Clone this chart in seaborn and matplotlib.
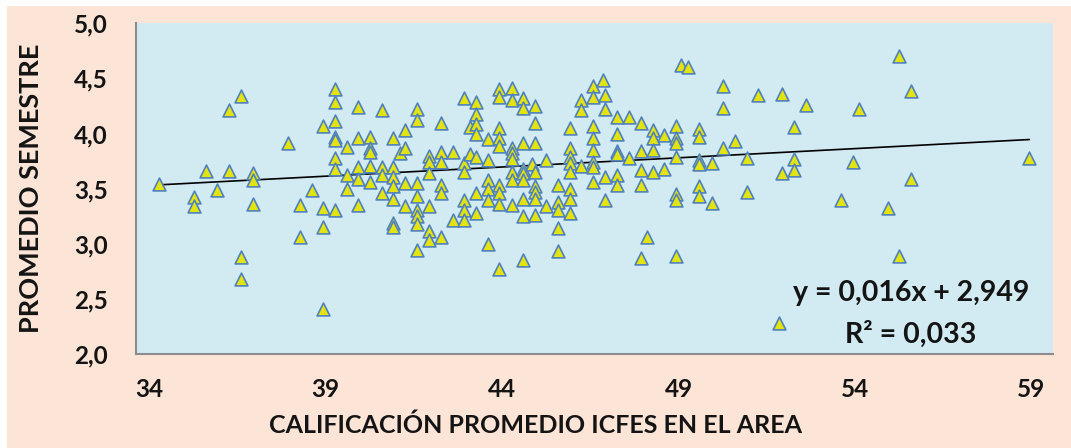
import matplotlib.pyplot as plt
import matplotlib.patches as mpatches
import seaborn as sns
import pandas as pd

# -- data --
icfes = [34.29, 35.28, 35.28, 35.61, 35.93, 36.27, 36.27, 36.61, 36.61, 36.61, 36.95, 36.95, 36.95, 37.95, 38.28, 38.28,
         38.61, 38.94, 38.94, 38.94, 38.94,
         39.27, 39.27, 39.27, 39.27, 39.27, 39.27, 39.27, 39.27,
         39.60, 39.60, 39.60,
         39.93, 39.93, 39.93, 39.93, 39.93,
         40.26, 40.26, 40.26, 40.26, 40.26,
         40.59, 40.59, 40.59, 40.59,
         40.92, 40.92, 40.92, 40.92, 40.92, 40.92, 40.92,
         41.11, 41.26, 41.26, 41.26, 41.26,
         41.60, 41.60, 41.60, 41.60, 41.60, 41.60, 41.60, 41.60,
         41.94, 41.94, 41.94, 41.94, 41.94, 41.94,
         42.27, 42.27, 42.27, 42.27, 42.27, 42.27,
         42.60, 42.60,
         42.93, 42.93, 42.93, 42.93, 42.93, 42.93,
         43.09, 43.09,
         43.26, 43.26, 43.26, 43.26, 43.26, 43.26, 43.26,
         43.59, 43.59, 43.59, 43.59, 43.59, 43.59,
         43.92, 43.92, 43.92, 43.92, 43.92, 43.92, 43.92, 43.92, 43.92,
         44.27, 44.27, 44.27, 44.27, 44.27, 44.27, 44.27, 44.27,
         44.60, 44.60, 44.60, 44.60, 44.60, 44.60, 44.60, 44.60, 44.60,
         44.84,
         44.93, 44.93, 44.93, 44.93, 44.93, 44.93, 44.93, 44.93,
         45.26, 45.26,
         45.59, 45.59, 45.59, 45.59, 45.59,
         45.92, 45.92, 45.92, 45.92, 45.92, 45.92, 45.92, 45.92,
         46.25, 46.25, 46.25,
         46.59, 46.59, 46.59, 46.59, 46.59, 46.59, 46.59, 46.59,
         46.87, 46.92, 46.92, 46.92, 46.92,
         47.27, 47.27, 47.27, 47.27, 47.27, 47.27,
         47.61, 47.61,
         47.94, 47.94, 47.94, 47.94, 47.94,
         48.10,
         48.27, 48.27, 48.27, 48.27,
         48.60, 48.60,
         48.93, 48.93, 48.93, 48.93, 48.93, 48.93, 48.93,
         49.08, 49.27,
         49.59, 49.59, 49.59, 49.59, 49.59, 49.59,
         49.94, 49.94,
         50.27, 50.27, 50.27,
         50.60,
         50.93, 50.93,
         51.26,
         51.92, 51.92, 51.85,
         52.27, 52.27, 52.27,
         52.61,
         53.61, 53.93, 54.10, 54.94, 55.25, 55.25, 55.58, 55.58, 58.94]

semestre = [3.54, 3.42, 3.34, 3.66, 3.49, 4.21, 3.66, 4.34, 2.88, 2.68, 3.64, 3.58, 3.36, 3.91, 3.35, 3.06,
            3.49, 4.07, 3.32, 3.15, 2.41,
            4.40, 4.29, 4.11, 3.97, 3.94, 3.78, 3.68, 3.31,
            3.88, 3.62, 3.50,
            4.24, 3.96, 3.70, 3.59, 3.35,
            3.97, 3.87, 3.83, 3.71, 3.56,
            4.21, 3.70, 3.62, 3.46,
            3.96, 3.70, 3.61, 3.52, 3.41, 3.19, 3.15,
            3.82, 4.03, 3.87, 3.55, 3.34,
            4.22, 4.12, 3.55, 3.43, 3.31, 3.25, 3.18, 2.94,
            3.80, 3.74, 3.64, 3.34, 3.12, 3.03,
            4.10, 3.83, 3.74, 3.53, 3.46, 3.06,
            3.83, 3.22,
            4.32, 3.73, 3.65, 3.40, 3.31, 3.22,
            4.06, 3.81,
            4.29, 4.18, 4.09, 4.00, 3.79, 3.46, 3.28,
            3.95, 3.76, 3.58, 3.50, 3.40, 3.00,
            4.40, 4.33, 4.05, 3.96, 3.89, 3.53, 3.46, 3.36, 2.77,
            4.41, 4.30, 3.87, 3.82, 3.77, 3.65, 3.58, 3.35,
            4.32, 4.23, 3.91, 3.68, 3.64, 3.58, 3.41, 3.25, 2.85,
            3.72,
            4.25, 4.10, 3.91, 3.65, 3.52, 3.47, 3.41, 3.26,
            3.76, 3.34,
            3.53, 3.38, 3.31, 3.14, 2.93,
            4.05, 3.87, 3.79, 3.73, 3.65, 3.50, 3.41, 3.28,
            3.71, 4.30, 4.21,
            4.43, 4.33, 4.07, 3.96, 3.85, 3.74, 3.70, 3.56,
            4.49, 4.35, 4.22, 3.61, 3.40,
            4.15, 4.00, 3.84, 3.81, 3.62, 3.53,
            4.15, 3.78,
            4.10, 3.84, 3.67, 3.53, 2.87,
            3.06,
            4.03, 3.96, 3.85, 3.65,
            3.99, 3.68,
            4.07, 3.96, 3.91, 3.79, 3.45, 3.40, 2.89,
            4.62, 4.60,
            4.04, 3.97, 3.76, 3.72, 3.52, 3.43,
            3.73, 3.37,
            4.43, 4.23, 3.87,
            3.93,
            3.78, 3.47,
            4.35,
            4.36, 3.64, 2.28,
            4.06, 3.77, 3.67,
            4.26,
            3.40, 3.74, 4.22, 3.32, 4.70, 2.89, 4.39, 3.59, 3.78]

x_ticks = [34, 39, 44, 49, 54, 59]
y_ticks = [2.0, 2.5, 3.0, 3.5, 4.0, 4.5, 5.0]
y_tick_labels = ['2,0', '2,5', '3,0', '3,5', '4,0', '4,5', '5,0']
equation = 'y = 0,016x + 2,949'
r2_text = 'R² = 0,033'

df = pd.DataFrame({'icfes': icfes, 'semestre': semestre})

sns.set_theme(style='white')
plt.rcParams['font.family'] = ['Lato', 'DejaVu Sans']
plt.rcParams['font.weight'] = 'bold'

fig = plt.figure(figsize=(10.71, 4.48), dpi=100, facecolor='white')
# peach chart-area background behind everything
fig.patches.append(mpatches.Rectangle((7 / 1071, 0), 1 - 7 / 1071, 442 / 448,
                                      transform=fig.transFigure, facecolor='#FCE4D6',
                                      edgecolor='none', zorder=-10))
ax = fig.add_axes([136 / 1071, 1 - 354 / 448, 917 / 1071, 330.7 / 448])
ax.set_zorder(1)
ax.set_facecolor('#D2EAF2')

sns.regplot(data=df, x='icfes', y='semestre', ax=ax, scatter=False, ci=None,
            truncate=True, line_kws={'color': 'black', 'lw': 1.2, 'zorder': 2})
sns.scatterplot(data=df, x='icfes', y='semestre', ax=ax, marker='^', s=85,
                color='#E3E312', edgecolor='#4F81BD', linewidth=1.2, zorder=3)

ax.set_xlim(33.63, 59.61)
ax.set_ylim(2.0, 5.0)
ax.set_xticks(x_ticks)
ax.set_xticklabels([str(t) for t in x_ticks], fontweight='bold')
ax.set_yticks(y_ticks)
ax.set_yticklabels(y_tick_labels, fontweight='bold')

for side in ['top', 'right']:
    ax.spines[side].set_visible(False)
for side in ['left', 'bottom']:
    ax.spines[side].set_color('#8C8C8C')
    ax.spines[side].set_linewidth(1.5)

ax.tick_params(axis='y', direction='out', length=5.8, width=1.2, color='#8C8C8C',
               pad=14.5, labelsize=17.5, labelcolor='#141414')
ax.tick_params(axis='x', length=0, pad=17, labelsize=17.5, labelcolor='#141414')

ax.set_xlabel('CALIFICACIÓN PROMEDIO ICFES EN EL AREA', fontsize=18, fontweight='bold', color='#141414')
ax.set_ylabel('PROMEDIO SEMESTRE', fontsize=19.5, fontweight='bold', color='#141414')
ax.xaxis.set_label_coords(0.436, -0.18)
ax.yaxis.set_label_coords(-0.101, 0.502)

ax.text(0.845, 0.184, equation, transform=ax.transAxes, ha='center', va='center',
        fontsize=20.5, fontweight='bold', color='#141414')
ax.text(0.845, 0.060, r2_text, transform=ax.transAxes, ha='center', va='center',
        fontsize=20.5, fontweight='bold', color='#141414')

plt.savefig('out.png', dpi=100, facecolor='white')
